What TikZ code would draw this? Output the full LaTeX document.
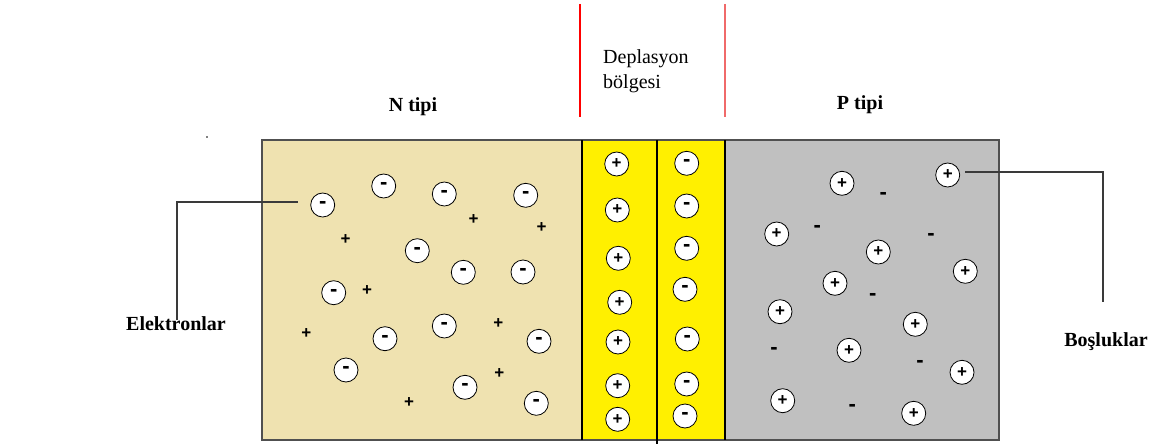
\documentclass[tikz,border=0pt]{standalone}
\usepackage{fontspec}
\setmainfont{Liberation Serif}
\newfontfamily\signfont{Liberation Sans}
\definecolor{ntan}{HTML}{EFE2B0}
\definecolor{pgray}{HTML}{C0C0C0}
\definecolor{depl}{HTML}{FFF000}
\definecolor{boxline}{HTML}{505050}
\definecolor{leader}{HTML}{3A3A3A}
\definecolor{redB}{HTML}{F06A6A}
\tikzset{
  ion/.style={circle, draw=black, line width=0.8pt, fill=white, minimum size=24pt, inner sep=0pt,
    font=\signfont\bfseries\fontsize{17}{17}\selectfont},
  negion/.style={ion, font=\signfont\bfseries\fontsize{22}{22}\selectfont},
  freesign/.style={inner sep=0pt, font=\signfont\bfseries\fontsize{17}{17}\selectfont},
  freeminus/.style={inner sep=0pt, font=\signfont\bfseries\fontsize{22}{22}\selectfont},
  lbl/.style={inner sep=0pt, font=\fontsize{20}{25}\selectfont, align=left},
  blbl/.style={inner sep=0pt, font=\bfseries\fontsize{20}{25}\selectfont},
  leaderline/.style={draw=leader, line width=1.4pt}
}
\begin{document}
\begin{tikzpicture}[x=1pt,y=-1pt]
\useasboundingbox (0,0) rectangle (1158,444);
% regions
\fill[ntan] (262,140) rectangle (582,440);
\fill[depl] (582,140) rectangle (725,440);
\fill[pgray] (725,140) rectangle (999,440);
\draw[boxline, line width=1.5pt] (262,140) rectangle (999,440);
\draw[black, line width=1.2pt] (582,140) -- (582,440);
\draw[black, line width=1.2pt] (725,140) -- (725,440);
\draw[black, line width=1.2pt] (657,140) -- (657,444);
% red lines
\draw[red, line width=1.2pt] (580,4) -- (580,117);
\draw[redB, line width=1.2pt] (725,4) -- (725,117);
% labels
\node[lbl, anchor=west] (depl) at (603,71) {Deplasyon\\bölgesi};
\node[blbl] (ntipi) at (413,107) {N tipi};
\node[blbl] (ptipi) at (860,105) {P tipi};
\node[blbl] (elek) at (176,324) {Elektronlar};
\node[blbl] (bos) at (1106,342) {Boşluklar};
\fill[black] (207,137) circle (0.9);
% N region electrons
\foreach \x/\y [count=\i] in {322.7/205, 383.7/186, 444.3/194, 525.7/195.3, 417.3/250.7, 463.3/272.3,
  523/272, 333.7/292.7, 444.3/326, 385/338.7, 539/341.3, 346/370, 465/387.3, 536.3/403.3}
  \node[negion] (ne\i) at (\x,\y) {-};
\foreach \x/\y [count=\i] in {473.7/220, 541.7/228, 345.7/240, 367/290.3, 306.3/333.3, 498.3/323.7,
  499.3/374, 409/402.7}
  \node[freesign] (np\i) at (\x,\y) {+};
% depletion region
\foreach \x/\y [count=\i] in {616.7/164, 617.3/210, 618.3/258.3, 619.7/302.3, 618/342, 617.7/385.7, 617.7/419.3}
  \node[ion] (dp\i) at (\x,\y) {+};
\foreach \x/\y [count=\i] in {686.7/163.3, 686.7/206, 686.7/248.3, 685/289.3, 687.3/339, 686.7/384, 685/416}
  \node[negion] (dn\i) at (\x,\y) {-};
% P region holes
\foreach \x/\y [count=\i] in {842/183.3, 947.7/175, 776.7/234, 878.3/252, 965.3/271.3, 835/283.3,
  780/311.7, 915.3/324.3, 849/350.3, 962/372.3, 782.7/400.7, 913.7/413.3}
  \node[ion] (ph\i) at (\x,\y) {+};
\foreach \x/\y [count=\i] in {883.3/195.7, 817.3/229, 931/237.3, 872.7/296.7, 774/350.7, 920/364.3, 852.3/408.3}
  \node[freeminus] (pm\i) at (\x,\y) {-};
% leaders
\coordinate (ea) at (177,320);
\coordinate (eb) at (298,202);
\draw[leaderline] (ea) |- (eb);
\coordinate (ba) at (965,172);
\coordinate (bb) at (1103,302);
\draw[leaderline] (ba) -| (bb);
\end{tikzpicture}
\end{document}
